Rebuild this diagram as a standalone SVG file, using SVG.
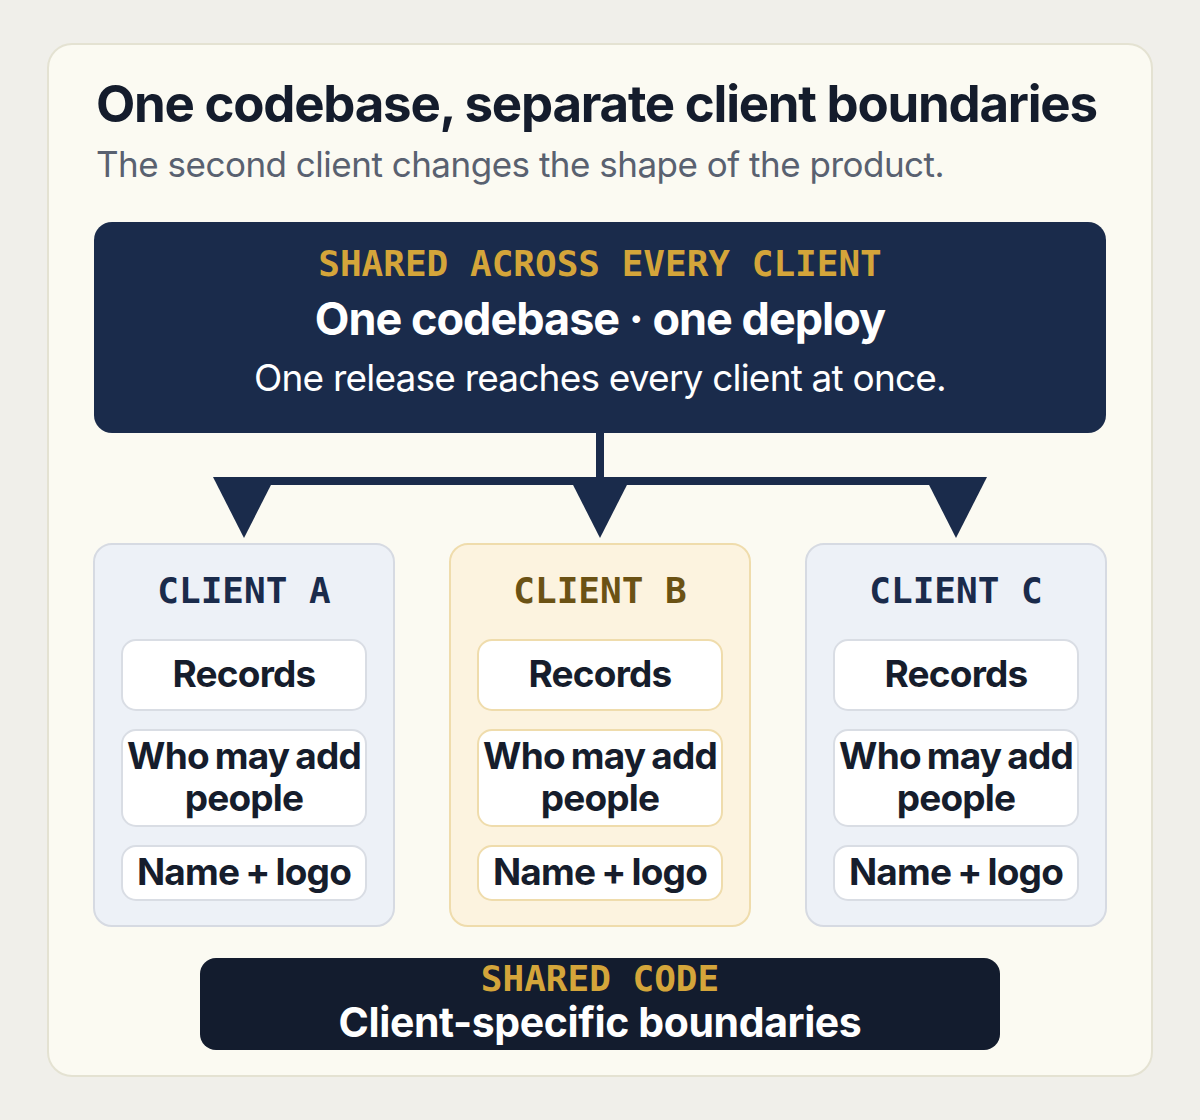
<svg xmlns="http://www.w3.org/2000/svg" width="1200" height="1120" viewBox="0 0 1200 1120">
<defs>
<marker id="tri" markerUnits="userSpaceOnUse" markerWidth="62" markerHeight="62" viewBox="0 0 61 62" refX="23" refY="31" orient="auto">
<path d="M0 0 L61 31 L0 62 Z" fill="#1a2b4b"/>
</marker>
</defs>
<style>
.sans{font-family:Inter,"Noto Sans","Liberation Sans",sans-serif}
.mono{font-family:"DejaVu Sans Mono","Liberation Mono",monospace;font-weight:700}
.card{stroke-width:2}
.cardAC{fill:#edf1f7;stroke:#d6dae2}
.cardB{fill:#fcf3df;stroke:#efdcac}
.item{fill:#ffffff;stroke-width:2}
.itemAC{stroke:#d9dde4}
.itemB{stroke:#efdcac}
.itemText{font-family:Inter,"Noto Sans","Liberation Sans",sans-serif;font-weight:700;font-size:37px;fill:#161d2c;text-anchor:middle;letter-spacing:-0.8px;word-spacing:-2px}
.lbl{font-size:36px;text-anchor:middle}
.conn{fill:none;stroke:#1a2b4b;stroke-width:8}
</style>
<rect x="0" y="0" width="1200" height="1120" fill="#f0efea"/>
<rect x="48" y="44" width="1104" height="1032" rx="24" fill="#fbfaf2" stroke="#e4e2d2" stroke-width="2"/>
<g id="title">
<text class="sans" x="96" y="122" font-size="51" font-weight="700" fill="#141c2c" letter-spacing="-1.25">One codebase, separate client boundaries</text>
<text class="sans" x="96" y="177" font-size="35" fill="#596170" letter-spacing="-0.5">The second client changes the shape of the product.</text>
</g>
<g id="shared">
<rect x="94" y="222" width="1012" height="211" rx="18" fill="#1a2b4b"/>
<text class="mono" x="600" y="276" font-size="36" fill="#d4a53a" text-anchor="middle">SHARED ACROSS EVERY CLIENT</text>
<text class="sans" x="600" y="335" font-size="45" font-weight="700" fill="#ffffff" text-anchor="middle" letter-spacing="-1">One codebase · one deploy</text>
<text class="sans" x="600" y="391" font-size="37" fill="#ffffff" text-anchor="middle" letter-spacing="-0.8">One release reaches every client at once.</text>
</g>
<g id="connectors">
<path class="conn" d="M600 433 V481 H244 V500" marker-end="url(#tri)"/>
<path class="conn" d="M600 433 V500" marker-end="url(#tri)"/>
<path class="conn" d="M600 433 V481 H956 V500" marker-end="url(#tri)"/>
</g>
<g id="clientA">
<rect class="card cardAC" x="94" y="544" width="300" height="382" rx="18"/>
<text class="mono lbl" x="244" y="603" fill="#1a2b4b">CLIENT A</text>
<rect class="item itemAC" x="122" y="640" width="244" height="70" rx="14"/>
<text class="itemText" x="244" y="687">Records</text>
<rect class="item itemAC" x="122" y="730" width="244" height="96" rx="14"/>
<text class="itemText" x="244" y="769">Who may add</text>
<text class="itemText" x="244" y="811">people</text>
<rect class="item itemAC" x="122" y="846" width="244" height="54" rx="14"/>
<text class="itemText" x="244" y="885">Name + logo</text>
</g>
<g id="clientB">
<rect class="card cardB" x="450" y="544" width="300" height="382" rx="18"/>
<text class="mono lbl" x="600" y="603" fill="#6b5214">CLIENT B</text>
<rect class="item itemB" x="478" y="640" width="244" height="70" rx="14"/>
<text class="itemText" x="600" y="687">Records</text>
<rect class="item itemB" x="478" y="730" width="244" height="96" rx="14"/>
<text class="itemText" x="600" y="769">Who may add</text>
<text class="itemText" x="600" y="811">people</text>
<rect class="item itemB" x="478" y="846" width="244" height="54" rx="14"/>
<text class="itemText" x="600" y="885">Name + logo</text>
</g>
<g id="clientC">
<rect class="card cardAC" x="806" y="544" width="300" height="382" rx="18"/>
<text class="mono lbl" x="956" y="603" fill="#1a2b4b">CLIENT C</text>
<rect class="item itemAC" x="834" y="640" width="244" height="70" rx="14"/>
<text class="itemText" x="956" y="687">Records</text>
<rect class="item itemAC" x="834" y="730" width="244" height="96" rx="14"/>
<text class="itemText" x="956" y="769">Who may add</text>
<text class="itemText" x="956" y="811">people</text>
<rect class="item itemAC" x="834" y="846" width="244" height="54" rx="14"/>
<text class="itemText" x="956" y="885">Name + logo</text>
</g>
<g id="footer">
<rect x="200" y="958" width="800" height="92" rx="16" fill="#131c2e"/>
<text class="mono" x="600" y="991" font-size="36" fill="#d4a53a" text-anchor="middle">SHARED CODE</text>
<text class="sans" x="600" y="1037" font-size="41" font-weight="700" fill="#ffffff" text-anchor="middle" letter-spacing="-0.4">Client-specific boundaries</text>
</g>
</svg>
